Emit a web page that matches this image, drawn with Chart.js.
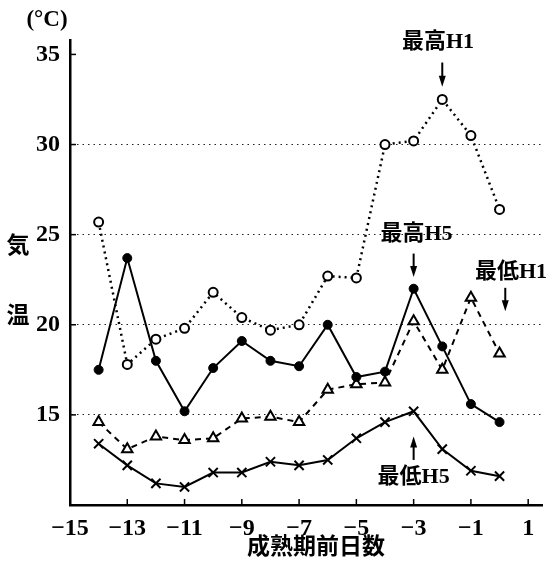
<!DOCTYPE html>
<html>
<head>
<meta charset="utf-8">
<script src="https://cdn.jsdelivr.net/npm/chart.js@4.4.1/dist/chart.umd.min.js"></script>
<style>
  html, body { margin: 0; padding: 0; background: #fff; }
  #wrap { width: 551px; height: 566px; position: relative; }
</style>
</head>
<body>
<div id="wrap"><canvas id="tempChart"></canvas></div>
<script>
// days before maturity (x) and temperatures (°C)
const days = [-14, -13, -12, -11, -10, -9, -8, -7, -6, -5, -4, -3, -2, -1, 0];
const maxH1 = [25.7, 17.8, 19.2, 19.8, 21.8, 20.4, 19.7, 20.0, 22.7, 22.6, 30.0, 30.2, 32.5, 30.5, 26.4];
const maxH5 = [17.5, 23.7, 18.0, 15.2, 17.6, 19.1, 18.0, 17.7, 20.0, 17.1, 17.4, 22.0, 18.8, 15.6, 14.6];
const minH1 = [14.6, 13.1, 13.8, 13.6, 13.7, 14.8, 14.9, 14.6, 16.4, 16.7, 16.8, 20.2, 17.5, 21.5, 18.4];
const minH5 = [13.4, 12.2, 11.2, 11.0, 11.8, 11.8, 12.4, 12.2, 12.5, 13.7, 14.6, 15.2, 13.1, 11.9, 11.6];

const xTicks = [-15, -13, -11, -9, -7, -5, -3, -1, 1];
const yTicks = [15, 20, 25, 30, 35];
const gridValues = [15, 20, 25, 30];

// series labels with arrows (data coords)
const notes = [
  { text: "最高H1", x: -2.15, y: 35.65, ax: -2, from: 34.55, to: 33.2 },
  { text: "最高H5", x: -2.9, y: 25.0, ax: -3, from: 23.95, to: 22.65 },
  { text: "最低H1", x: 0.4, y: 22.9, ax: 0.2, from: 22.05, to: 20.75 },
  { text: "最低H5", x: -3.0, y: 11.55, ax: -3, from: 12.5, to: 13.8 }
];

const serif = "'Liberation Serif', 'Noto Sans CJK JP', serif";
const pts = arr => days.map((d, i) => ({ x: d, y: arr[i] }));

const decor = {
  id: "decor",
  afterDraw(chart) {
    const { ctx, scales: { x, y }, chartArea } = chart;
    ctx.save();
    ctx.strokeStyle = "#000";
    ctx.fillStyle = "#000";
    ctx.lineWidth = 1.5;
    // inward tick marks
    yTicks.forEach(v => {
      const py = y.getPixelForValue(v);
      ctx.beginPath();
      ctx.moveTo(chartArea.left, py);
      ctx.lineTo(chartArea.left + 6, py);
      ctx.stroke();
    });
    xTicks.forEach(v => {
      const px = x.getPixelForValue(v);
      ctx.beginPath();
      ctx.moveTo(px, chartArea.bottom);
      ctx.lineTo(px, chartArea.bottom - 6);
      ctx.stroke();
    });

    // axis titles
    ctx.font = "bold 23px " + serif;
    ctx.textAlign = "center";
    ctx.textBaseline = "middle";
    ctx.fillText("(°C)", 47, 20);
    ctx.fillText("気", 18, 247);
    ctx.fillText("温", 18, 317);
    ctx.fillText("成熟期前日数", 316, 548);

    // series labels and arrows
    ctx.font = "bold 22px " + serif;
    notes.forEach(n => {
      ctx.fillText(n.text, x.getPixelForValue(n.x), y.getPixelForValue(n.y));
      const ax = x.getPixelForValue(n.ax);
      const y1 = y.getPixelForValue(n.from);
      const y2 = y.getPixelForValue(n.to);
      const dir = y2 > y1 ? 1 : -1;
      ctx.lineWidth = 2;
      ctx.beginPath();
      ctx.moveTo(ax, y1);
      ctx.lineTo(ax, y2 - dir * 8);
      ctx.stroke();
      ctx.beginPath();
      ctx.moveTo(ax, y2);
      ctx.lineTo(ax - 3.5, y2 - dir * 11);
      ctx.lineTo(ax + 3.5, y2 - dir * 11);
      ctx.closePath();
      ctx.fill();
    });
    ctx.restore();
  }
};

new Chart(document.getElementById("tempChart"), {
  type: "line",
  data: {
    datasets: [
      {
        label: "最高H1",
        data: pts(maxH1),
        borderColor: "#000",
        borderWidth: 2.5,
        borderDash: [2, 4],
        pointStyle: "circle",
        pointRadius: 4.5,
        pointBorderWidth: 2,
        pointBackgroundColor: "#fff",
        pointBorderColor: "#000",
        tension: 0
      },
      {
        label: "最高H5",
        data: pts(maxH5),
        borderColor: "#000",
        borderWidth: 2,
        pointStyle: "circle",
        pointRadius: 4.5,
        pointBorderWidth: 1,
        pointBackgroundColor: "#000",
        pointBorderColor: "#000",
        tension: 0
      },
      {
        label: "最低H1",
        data: pts(minH1),
        borderColor: "#000",
        borderWidth: 2,
        borderDash: [6, 5],
        pointStyle: "triangle",
        pointRadius: 6,
        pointBorderWidth: 2,
        pointBackgroundColor: "#fff",
        pointBorderColor: "#000",
        tension: 0
      },
      {
        label: "最低H5",
        data: pts(minH5),
        borderColor: "#000",
        borderWidth: 2,
        pointStyle: "crossRot",
        pointRadius: 6.5,
        pointBorderWidth: 2,
        pointBorderColor: "#000",
        tension: 0
      }
    ]
  },
  options: {
    responsive: true,
    maintainAspectRatio: false,
    animation: false,
    layout: { padding: { top: 40, left: 8, right: 8, bottom: 0 } },
    plugins: { legend: { display: false }, tooltip: { enabled: false } },
    scales: {
      x: {
        type: "linear",
        min: -15,
        max: 1.5,
        afterBuildTicks: s => { s.ticks = xTicks.map(v => ({ value: v })); },
        afterFit: s => { s.height = 61; },
        grid: { display: false, drawTicks: false },
        border: { display: true, color: "#000", width: 2.5 },
        ticks: {
          padding: 9,
          color: "#000",
          font: { family: serif, size: 24, weight: "bold" },
          maxRotation: 0,
          autoSkip: false,
          callback: v => (v < 0 ? "\u2212" + Math.abs(v) : String(v))
        }
      },
      y: {
        min: 10,
        max: 35.8,
        afterBuildTicks: s => { s.ticks = yTicks.map(v => ({ value: v })); },
        afterFit: s => { s.width = 62; },
        grid: {
          drawTicks: false,
          lineWidth: 1,
          color: c => (gridValues.includes(c.tick && c.tick.value) ? "#222" : "rgba(0,0,0,0)")
        },
        border: { display: true, color: "#000", width: 2.5, dash: [1.5, 4] },
        ticks: {
          padding: 10,
          color: "#000",
          font: { family: serif, size: 24, weight: "bold" }
        }
      }
    }
  },
  plugins: [decor]
});
</script>
</body>
</html>
